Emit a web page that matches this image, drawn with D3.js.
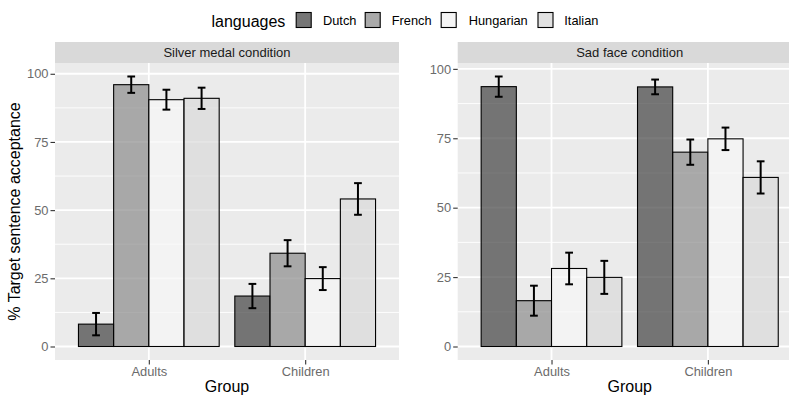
<!DOCTYPE html>
<html>
<head>
<meta charset="utf-8">
<script src="https://cdn.jsdelivr.net/npm/d3@7/dist/d3.min.js"></script>
<style>
  html, body { margin: 0; padding: 0; background: #ffffff; }
  svg { display: block; font-family: "Liberation Sans", Arial, sans-serif; }
</style>
</head>
<body>
<svg id="chart" width="789" height="396"></svg>
<script>
// Categories
const groups = ["Adults", "Children"];
const languages = ["Dutch", "French", "Hungarian", "Italian"];
const conditions = ["Silver medal condition", "Sad face condition"];
const yTicks = [0, 25, 50, 75, 100];
const yMinorTicks = [12.5, 37.5, 62.5, 87.5];

// Mean acceptance (%) per group, in language order
const silverMeans = [
  [8.2, 96.0, 90.5, 91.0],   // Adults
  [18.5, 34.2, 24.9, 54.1]   // Children
];
const silverErrors = [
  [4.1, 3.0, 3.65, 3.9],
  [4.45, 4.8, 4.2, 5.8]
];
const sadMeans = [
  [93.6, 16.5, 28.1, 24.9],
  [93.5, 70.0, 74.8, 60.9]
];
const sadErrors = [
  [3.65, 5.4, 5.7, 5.95],
  [2.65, 4.55, 4.05, 5.8]
];

// Fill colours (drawn with transparency)
const fillColors = ["#414141", "#8b8b8b", "#f6f6f6", "#dadada"];
const fillAlpha = 0.7;

const svg = d3.select("#chart");

const panelW = 344;
const panelTop = 63;
const panelBottom = 360;
const stripTop = 42;
const panelX = [55, 457.7];

const color = d3.scaleOrdinal().domain(languages).range(fillColors);

const panelData = [
  { title: conditions[0], means: silverMeans, errors: silverErrors },
  { title: conditions[1], means: sadMeans, errors: sadErrors }
];

panelData.forEach((p, pi) => {
  const x0 = panelX[pi];
  const g = svg.append("g");

  // free y scale per panel with 5% expansion around [0, max upper error]
  const rows = [];
  groups.forEach((grp, gi) => {
    languages.forEach((lang, li) => {
      rows.push({ group: grp, lang: lang, mean: p.means[gi][li], err: p.errors[gi][li] });
    });
  });
  const maxUp = d3.max(rows, d => d.mean + d.err);
  const y = d3.scaleLinear()
    .domain([-0.05 * maxUp, 1.05 * maxUp])
    .range([panelBottom, panelTop]);

  const x = d3.scalePoint().domain(groups).range([x0, x0 + panelW]).padding(0.6);
  const step = x.step();
  const dodge = d3.scaleBand().domain(languages).range([-0.45 * step, 0.45 * step]);

  // strip
  g.append("rect")
    .attr("x", x0).attr("y", stripTop)
    .attr("width", panelW).attr("height", panelTop - stripTop)
    .attr("fill", "#d9d9d9");
  g.append("text")
    .attr("x", x0 + panelW / 2).attr("y", (stripTop + panelTop) / 2 + 4.6)
    .attr("text-anchor", "middle")
    .attr("font-size", 13).attr("fill", "#1a1a1a")
    .text(p.title);

  // panel background
  g.append("rect")
    .attr("x", x0).attr("y", panelTop)
    .attr("width", panelW).attr("height", panelBottom - panelTop)
    .attr("fill", "#ebebeb");

  // grid lines
  g.selectAll(".minor").data(yMinorTicks).join("line")
    .attr("x1", x0).attr("x2", x0 + panelW)
    .attr("y1", d => y(d)).attr("y2", d => y(d))
    .attr("stroke", "#ffffff").attr("stroke-width", 0.9);
  g.selectAll(".major").data(yTicks).join("line")
    .attr("x1", x0).attr("x2", x0 + panelW)
    .attr("y1", d => y(d)).attr("y2", d => y(d))
    .attr("stroke", "#ffffff").attr("stroke-width", 1.8);
  g.selectAll(".vmajor").data(groups).join("line")
    .attr("x1", d => x(d)).attr("x2", d => x(d))
    .attr("y1", panelTop).attr("y2", panelBottom)
    .attr("stroke", "#ffffff").attr("stroke-width", 1.8);

  // bars
  g.selectAll(".bar").data(rows).join("rect")
    .attr("x", d => x(d.group) + dodge(d.lang))
    .attr("width", dodge.bandwidth())
    .attr("y", d => y(d.mean))
    .attr("height", d => y(0) - y(d.mean))
    .attr("fill", d => color(d.lang))
    .attr("fill-opacity", fillAlpha)
    .attr("stroke", "#000000")
    .attr("stroke-width", 1.1);

  // error bars
  const capHalf = dodge.bandwidth() * 0.11;
  const cx = d => x(d.group) + dodge(d.lang) + dodge.bandwidth() / 2;
  const eb = g.selectAll(".eb").data(rows).join("g")
    .attr("stroke", "#000000").attr("stroke-width", 2);
  eb.append("line")
    .attr("x1", cx).attr("x2", cx)
    .attr("y1", d => y(d.mean + d.err))
    .attr("y2", d => y(d.mean - d.err));
  eb.append("line")
    .attr("x1", d => cx(d) - capHalf).attr("x2", d => cx(d) + capHalf)
    .attr("y1", d => y(d.mean + d.err))
    .attr("y2", d => y(d.mean + d.err));
  eb.append("line")
    .attr("x1", d => cx(d) - capHalf).attr("x2", d => cx(d) + capHalf)
    .attr("y1", d => y(d.mean - d.err))
    .attr("y2", d => y(d.mean - d.err));

  // axes
  const yAxis = g.append("g")
    .attr("transform", `translate(${x0},0)`)
    .call(d3.axisLeft(y).tickValues(yTicks).tickSize(4.5).tickPadding(2).tickFormat(d3.format("d")));
  const xAxis = g.append("g")
    .attr("transform", `translate(0,${panelBottom})`)
    .call(d3.axisBottom(x).tickSize(4.5).tickPadding(2));
  [yAxis, xAxis].forEach(a => {
    a.select(".domain").remove();
    a.selectAll(".tick line").attr("stroke", "#333333").attr("stroke-width", 1.1);
    a.selectAll(".tick text")
      .attr("font-size", 12.9).attr("fill", "#6b6b6b")
      .attr("font-family", "'Liberation Sans', Arial, sans-serif");
  });

  // x axis title
  g.append("text")
    .attr("x", x0 + panelW / 2).attr("y", 392)
    .attr("text-anchor", "middle")
    .attr("font-size", 16).attr("fill", "#000000")
    .text("Group");
});

// y axis title
svg.append("text")
  .attr("transform", `translate(20,${(panelTop + panelBottom) / 2}) rotate(-90)`)
  .attr("text-anchor", "middle")
  .attr("font-size", 16).attr("fill", "#000000")
  .text("% Target sentence acceptance");

// legend
const legend = svg.append("g");
legend.append("text")
  .attr("x", 211.5).attr("y", 26.5)
  .attr("font-size", 16).attr("fill", "#000000")
  .text("languages");
const keyX = [295.7, 364.7, 440.7, 537.5];
const labelX = [323, 391.7, 468.7, 564.3];
languages.forEach((lang, i) => {
  legend.append("rect")
    .attr("x", keyX[i]).attr("y", 12)
    .attr("width", 16).attr("height", 16)
    .attr("fill", "#f2f2f2");
  legend.append("rect")
    .attr("x", keyX[i] + 0.5).attr("y", 12.5)
    .attr("width", 15).attr("height", 15)
    .attr("fill", color(lang)).attr("fill-opacity", fillAlpha)
    .attr("stroke", "#000000").attr("stroke-width", 1.1);
  legend.append("text")
    .attr("x", labelX[i]).attr("y", 25.3)
    .attr("font-size", 12.8).attr("fill", "#000000")
    .text(lang);
});
</script>
</body>
</html>
